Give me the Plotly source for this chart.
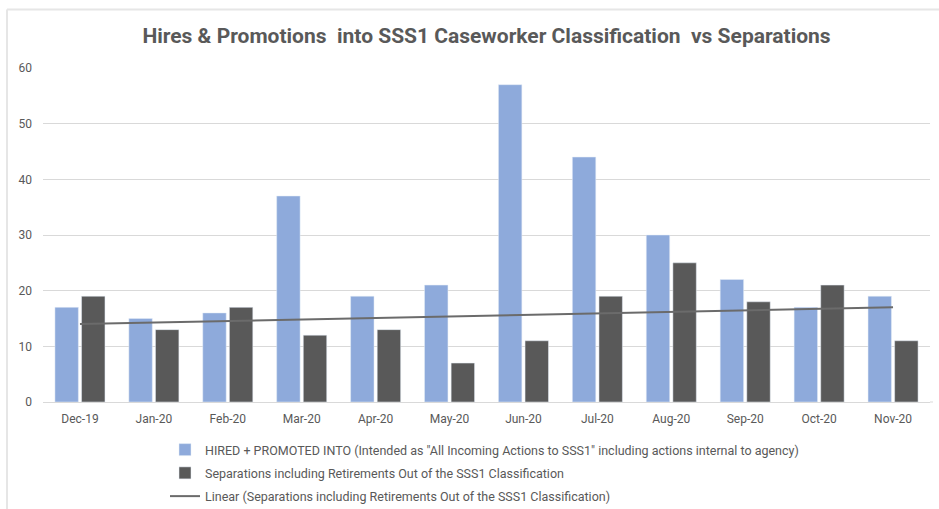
import numpy as np
import plotly.graph_objects as go

months = ["Dec-19", "Jan-20", "Feb-20", "Mar-20", "Apr-20", "May-20",
          "Jun-20", "Jul-20", "Aug-20", "Sep-20", "Oct-20", "Nov-20"]
hired = [17, 15, 16, 37, 19, 21, 57, 44, 30, 22, 17, 19]
separations = [19, 13, 17, 12, 13, 7, 11, 19, 25, 18, 21, 11]
y_ticks = [0, 10, 20, 30, 40, 50, 60]

name_hired = 'HIRED + PROMOTED INTO (Intended as "All Incoming Actions to SSS1" including actions internal to agency)'
name_sep = "Separations including Retirements Out of the SSS1 Classification"
name_lin = "Linear (Separations including Retirements Out of the SSS1 Classification)"

xi = np.arange(1, len(separations) + 1)
slope, intercept = np.polyfit(xi, separations, 1)
trend = list(slope * xi + intercept)

TXT = "#595959"
FONT = "Roboto, Arial"

fig = go.Figure()
fig.add_trace(go.Bar(x=months, y=hired, name=name_hired, marker_color="#8eaadb",
                     legendgroup="a"))
fig.add_trace(go.Bar(x=months, y=separations, name=name_sep, marker_color="#595959",
                     legendgroup="b"))
fig.add_trace(go.Scatter(x=months, y=trend, name=name_lin, mode="lines",
                         line=dict(color="#6b6b6b", width=2), legendgroup="c"))

W, H = 939, 509
L, R, T, B = 43, 9, 68, 107
pw, ph = W - L - R, H - T - B

def px(x):
    return (x - L) / pw

def py(y):
    return 1 - (y - T) / ph

fig.update_layout(
    width=W, height=H,
    margin=dict(l=L, r=R, t=T, b=B, autoexpand=False),
    paper_bgcolor="white", plot_bgcolor="white",
    barmode="group", bargap=0.28, bargroupgap=0.12,
    title=dict(text="Hires & Promotions  into SSS1 Caseworker Classification  vs Separations",
               x=0.5, xref="paper", xanchor="center", y=1 - 36 / H, yanchor="middle",
               font=dict(family=FONT, size=21, color=TXT, weight="bold")),
    font=dict(family=FONT, size=12, color=TXT),
    xaxis=dict(type="category", showgrid=False, showline=True, linecolor="#d9d9d9",
               ticks="", tickfont=dict(size=12, color=TXT), ticklabelstandoff=6),
    yaxis=dict(range=[0, 60], tickvals=y_ticks, showgrid=True, gridcolor="#d9d9d9",
               zeroline=False, showline=False, ticks="",
               tickfont=dict(size=12, color=TXT), ticklabelstandoff=10),
    legend=dict(orientation="v", x=px(165), xanchor="left", y=py(435), yanchor="top",
                font=dict(size=12.5, color=TXT), tracegroupgap=4,
                bgcolor="rgba(0,0,0,0)"),
    shapes=[
        dict(type="line", xref="paper", yref="paper", x0=px(7), x1=px(W), y0=py(9.5), y1=py(9.5),
             line=dict(color="#e6e6e6", width=2)),
        dict(type="line", xref="paper", yref="paper", x0=px(7), x1=px(7), y0=py(9.5), y1=py(H),
             line=dict(color="#e6e6e6", width=2)),
        dict(type="line", xref="paper", yref="paper", x0=px(930), x1=px(933), y0=py(402), y1=py(402),
             line=dict(color="#d9d9d9", width=1)),
    ],
)

fig.write_html("out.html")
